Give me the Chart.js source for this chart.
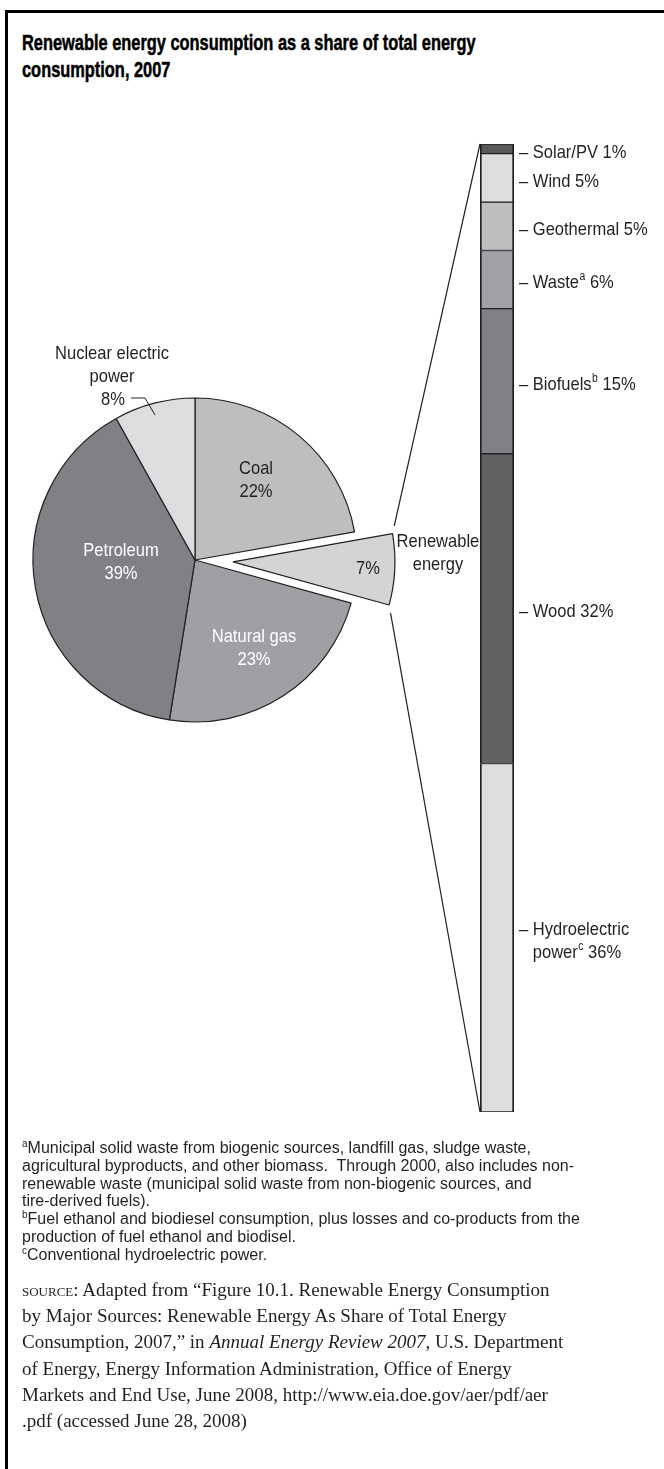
<!DOCTYPE html>
<html>
<head>
<meta charset="utf-8">
<script src="https://cdn.jsdelivr.net/npm/chart.js@4.4.0/dist/chart.umd.min.js"></script>
<style>
  html, body { margin: 0; padding: 0; background: #fff; }
  body { width: 664px; height: 1469px; position: relative; overflow: hidden; color: #231f20; }
  .rule-left { position: absolute; left: 5px; top: 10px; width: 3px; height: 1459px; background: #000; }
  .rule-top { position: absolute; left: 5px; top: 10px; width: 659px; height: 3px; background: #000; }
  #title { position: absolute; left: 22px; top: 29px; font: bold 22px "Liberation Sans", sans-serif;
           line-height: 27px; color: #000; white-space: nowrap; -webkit-text-stroke: 0.5px #000;
           transform: scaleX(0.745); transform-origin: 0 0; }
  canvas { position: absolute; left: 0; top: 0; }
  #notes { position: absolute; left: 22px; top: 1139px; font: 16px "Liberation Sans", sans-serif;
           line-height: 17.8px; white-space: nowrap; }
  #notes sup { font-size: 10px; vertical-align: 6px; line-height: 0; }
  #source { position: absolute; left: 22px; top: 1277px; font: 19px "Liberation Serif", serif;
            line-height: 26.2px; white-space: nowrap; }
  .sc { font-variant: small-caps; }
</style>
</head>
<body>
<div class="rule-left"></div>
<div class="rule-top"></div>
<div id="title">Renewable energy consumption as a share of total energy<br>consumption, 2007</div>

<canvas id="pie" width="664" height="1469"></canvas>
<canvas id="stack" width="664" height="1469"></canvas>

<div id="notes">
<sup>a</sup>Municipal solid waste from biogenic sources, landfill gas, sludge waste,<br>
agricultural byproducts, and other biomass.&nbsp; Through 2000, also includes non-<br>
renewable waste (municipal solid waste from non-biogenic sources, and<br>
tire-derived fuels).<br>
<sup>b</sup>Fuel ethanol and biodiesel consumption, plus losses and co-products from the<br>
production of fuel ethanol and biodisel.<br>
<sup>c</sup>Conventional hydroelectric power.
</div>

<div id="source">
<span class="sc">source:</span> Adapted from “Figure 10.1. Renewable Energy Consumption<br>
by Major Sources: Renewable Energy As Share of Total Energy<br>
Consumption, 2007,” in <i>Annual Energy Review 2007</i>, U.S. Department<br>
of Energy, Energy Information Administration, Office of Energy<br>
Markets and End Use, June 2008, http://www.eia.doe.gov/aer/pdf/aer<br>
.pdf (accessed June 28, 2008)
</div>

<script>
// Total U.S. energy consumption by source, 2007 (percent)
const energySources = ['Coal', 'Renewable energy', 'Natural gas', 'Petroleum', 'Nuclear electric power'];
const energyShares = [22, 7, 23, 39, 8];

// Breakdown of the renewable share (percent of renewable energy)
const renewableSources = ['Solar/PV', 'Wind', 'Geothermal', 'Waste', 'Biofuels', 'Wood', ['Hydroelectric', 'power']];
const renewableShares = [1, 5, 5, 6, 15, 32, 36];
const renewableNotes = ['', '', '', 'a', 'b', '', 'c'];

const INK = '#231f20';
const LABEL_FONT = '"Liberation Sans", sans-serif';
const LABEL_SIZE = 19;
const NARROW = 0.87;   // horizontal squeeze for the condensed label face

const pieColors = ['#bdbec0', '#d3d4d6', '#9fa0a3', '#808184', '#dcdddf'];
const stackColors = ['#58595b', '#dcdddf', '#bdbec0', '#a0a1a4', '#808184', '#606163', '#dcdddf'];

// how far the renewable wedge is pulled out of the pie
const EXPLODE_PX = 38;

// text placement for each pie slice, relative to the slice centre
const pieLabelLayout = [
  { dx: 61, dy: -93, color: INK, lines: (v) => ['Coal', v + '%'] },
  { dx: 135, dy: 5, color: INK, lines: (v) => [v + '%'] },
  { dx: 59, dy: 75, color: '#fff', lines: (v) => ['Natural gas', v + '%'] },
  { dx: -74, dy: -11, color: '#fff', lines: (v) => ['Petroleum', v + '%'] },
  { dx: -83, dy: -208, color: INK, lines: (v) => ['Nuclear electric', 'power', v + '%'] }
];

// draw text squeezed horizontally around its anchor
function narrowText(ctx, text, x, y) {
  ctx.save();
  ctx.translate(x, y);
  ctx.scale(NARROW, 1);
  ctx.fillText(text, 0, 0);
  ctx.restore();
}
function narrowWidth(ctx, text) {
  return ctx.measureText(text).width * NARROW;
}

function drawCentredLines(ctx, lines, x, midY, lh) {
  lines.forEach((t, i) => {
    narrowText(ctx, t, x, midY + i * lh + LABEL_SIZE * 0.36);
  });
}

const explodePlugin = {
  id: 'explodeRenewable',
  afterUpdate(chart) {
    const arc = chart.getDatasetMeta(0).data[1];
    const mid = (arc.startAngle + arc.endAngle) / 2;
    arc.x += Math.cos(mid) * EXPLODE_PX;
    arc.y += Math.sin(mid) * EXPLODE_PX;
  }
};

const pieLabelPlugin = {
  id: 'pieLabels',
  afterDraw(chart) {
    const ctx = chart.ctx;
    const arcs = chart.getDatasetMeta(0).data;
    ctx.save();
    ctx.font = LABEL_SIZE + 'px ' + LABEL_FONT;
    ctx.textAlign = 'center';
    ctx.textBaseline = 'alphabetic';
    arcs.forEach((arc, i) => {
      const lay = pieLabelLayout[i];
      ctx.fillStyle = lay.color;
      const lines = lay.lines(energyShares[i]);
      if (i === 4) {
        const base = LABEL_SIZE * 0.36;
        narrowText(ctx, lines[0], arc.x + lay.dx, arc.y + lay.dy + base);
        narrowText(ctx, lines[1], arc.x + lay.dx, arc.y + lay.dy + 23 + base);
        narrowText(ctx, lines[2], arc.x + lay.dx + 1, arc.y + lay.dy + 46 + base);
        // leader from the value to its slice
        ctx.strokeStyle = INK;
        ctx.lineWidth = 1;
        ctx.beginPath();
        ctx.moveTo(arc.x - 64, arc.y - 162);
        ctx.lineTo(arc.x - 50, arc.y - 162);
        ctx.lineTo(arc.x - 40, arc.y - 145);
        ctx.stroke();
      } else {
        drawCentredLines(ctx, lines, arc.x + lay.dx, arc.y + lay.dy, 23);
      }
    });
    // name of the pulled-out wedge, set beside its outer edge
    const ren = arcs[1];
    ctx.fillStyle = INK;
    drawCentredLines(ctx, ['Renewable', 'energy'], ren.x + 205, ren.y - 22, 23);
    ctx.restore();
  }
};

const pieChart = new Chart(document.getElementById('pie'), {
  type: 'pie',
  data: {
    labels: energySources,
    datasets: [{
      data: energyShares,
      backgroundColor: pieColors,
      borderColor: INK,
      borderWidth: 1.2,
      radius: 162
    }]
  },
  options: {
    responsive: false,
    animation: false,
    events: [],
    radius: 162,
    layout: { padding: { left: 0, right: 274, top: 360, bottom: 709 } },
    plugins: { legend: { display: false }, tooltip: { enabled: false } }
  },
  plugins: [explodePlugin, pieLabelPlugin]
});

// labels beside each band of the stacked column
const stackLabelPlugin = {
  id: 'stackLabels',
  afterDraw(chart) {
    const ctx = chart.ctx;
    const mainFont = LABEL_SIZE + 'px ' + LABEL_FONT;
    const supFont = '12px ' + LABEL_FONT;
    ctx.save();
    ctx.font = mainFont;
    ctx.fillStyle = INK;
    ctx.textAlign = 'left';
    ctx.textBaseline = 'alphabetic';
    chart.data.datasets.forEach((ds, i) => {
      const bar = chart.getDatasetMeta(i).data[0];
      const x0 = bar.x + bar.width / 2 + 5;
      const mid = (bar.y + bar.base) / 2 + 2;
      const name = renewableSources[i];
      const lines = Array.isArray(name) ? name : [name];
      const lh = 23;
      const startY = mid - (lines.length - 1) * lh / 2;
      const dash = '– ';
      ctx.font = mainFont;
      const dashW = narrowWidth(ctx, dash);
      lines.forEach((ln, k) => {
        const y = startY + k * lh + LABEL_SIZE * 0.36;
        let x = x0;
        ctx.font = mainFont;
        if (k === 0) { narrowText(ctx, dash, x, y); }
        x += dashW;
        narrowText(ctx, ln, x, y);
        x += narrowWidth(ctx, ln);
        if (k === lines.length - 1) {
          if (renewableNotes[i]) {
            ctx.font = supFont;
            narrowText(ctx, renewableNotes[i], x + 0.5, y - 8);
            x += narrowWidth(ctx, renewableNotes[i]) + 0.5;
            ctx.font = mainFont;
          }
          narrowText(ctx, ' ' + renewableShares[i] + '%', x, y);
        }
      });
    });
    ctx.restore();
  }
};

// lines joining the renewable wedge to the column that breaks it down
const connectorPlugin = {
  id: 'connectors',
  afterDraw(chart) {
    const ctx = chart.ctx;
    const arc = pieChart.getDatasetMeta(0).data[1];
    const R = arc.outerRadius;
    const first = chart.getDatasetMeta(0).data[0];
    const last = chart.getDatasetMeta(chart.data.datasets.length - 1).data[0];
    const colTop = { x: first.x - first.width / 2, y: first.base };
    const colBottom = { x: last.x - last.width / 2, y: last.y };
    const cUp = { x: arc.x + R * Math.cos(arc.startAngle), y: arc.y + R * Math.sin(arc.startAngle) };
    const cDown = { x: arc.x + R * Math.cos(arc.endAngle), y: arc.y + R * Math.sin(arc.endAngle) };
    const gap = 8;
    ctx.save();
    ctx.strokeStyle = INK;
    ctx.lineWidth = 1.2;
    [[cUp, colTop], [cDown, colBottom]].forEach(([a, b]) => {
      const len = Math.hypot(b.x - a.x, b.y - a.y);
      const sx = a.x + (b.x - a.x) * gap / len;
      const sy = a.y + (b.y - a.y) * gap / len;
      ctx.beginPath();
      ctx.moveTo(sx, sy);
      ctx.lineTo(b.x, b.y);
      ctx.stroke();
    });
    ctx.restore();
  }
};

new Chart(document.getElementById('stack'), {
  type: 'bar',
  data: {
    labels: ['Renewable energy'],
    datasets: renewableSources.map((name, i) => ({
      label: Array.isArray(name) ? name.join(' ') : name,
      data: [renewableShares[i]],
      backgroundColor: stackColors[i],
      borderColor: INK,
      borderWidth: { top: 1, bottom: 1, left: 2, right: 2 },
      borderSkipped: false,
      categoryPercentage: 1,
      barPercentage: 1
    }))
  },
  options: {
    responsive: false,
    animation: false,
    events: [],
    layout: { padding: { left: 480, right: 150, top: 144, bottom: 357 } },
    scales: {
      x: { stacked: true, display: false },
      y: { stacked: true, display: false, min: 0, max: 100, reverse: true }
    },
    plugins: { legend: { display: false }, tooltip: { enabled: false } }
  },
  plugins: [connectorPlugin, stackLabelPlugin]
});
</script>
</body>
</html>
